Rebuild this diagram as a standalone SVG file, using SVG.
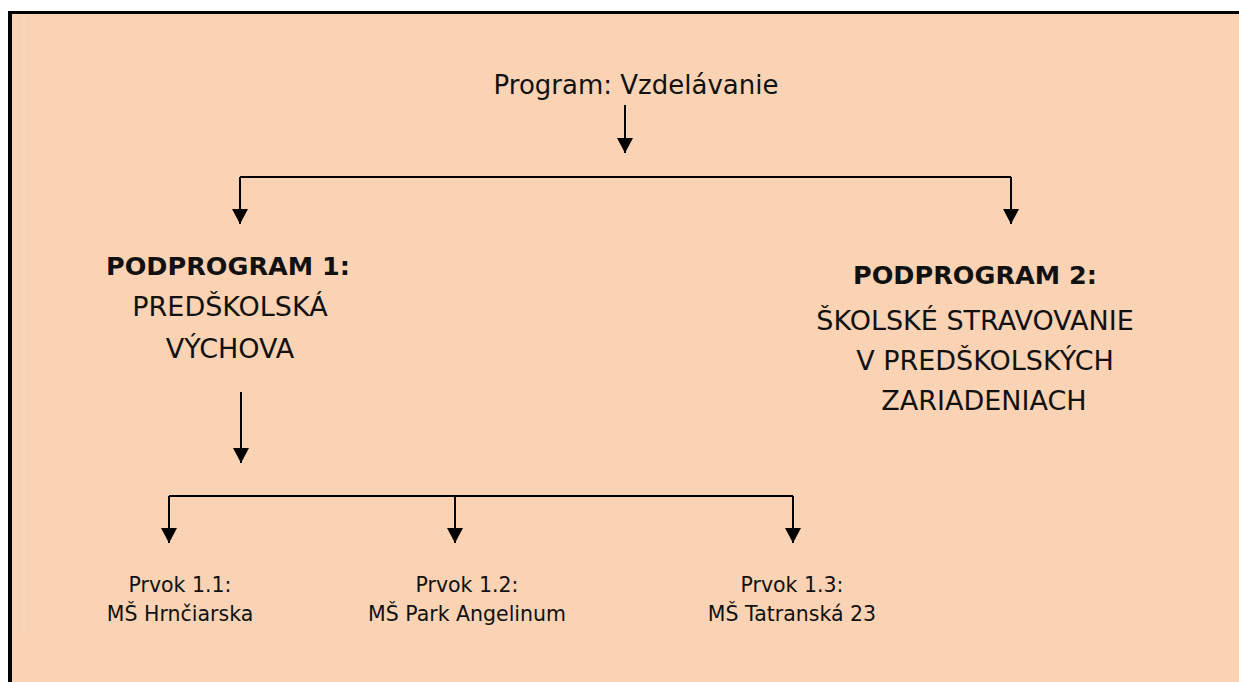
<svg xmlns="http://www.w3.org/2000/svg" width="1239" height="682" viewBox="0 0 1239 682">
  <defs>
    <!-- filled triangular arrowhead, drawn along +x so orient="auto" follows the line -->
    <marker id="arrow" markerWidth="16" markerHeight="16" refX="15" refY="8" orient="auto" markerUnits="userSpaceOnUse" viewBox="0 0 16 16">
      <path d="M0,0 L15,8 L0,16 Z" fill="#000"/>
    </marker>
    <style>
      .conn { fill: none; stroke: #000; stroke-width: 2; }
      .arr { marker-end: url(#arrow); }
      .gothic { font-family: "DejaVu Sans", "Liberation Sans", sans-serif; fill: #111; text-anchor: middle; }
      .title { font-size: 26px; }
      .head { font-size: 25.5px; font-weight: bold; }
      .sub { font-size: 27px; }
      .item { font-family: "DejaVu Sans", "Liberation Sans", sans-serif; font-size: 20.5px; fill: #111; text-anchor: middle; }
    </style>
  </defs>

  <!-- page background and frame -->
  <rect x="0" y="0" width="1239" height="682" fill="#ffffff"/>
  <rect x="10" y="12" width="1229" height="670" fill="#FAD3B4"/>
  <line x1="24" y1="14" x2="24" y2="636" stroke="#FBDDC4" stroke-width="1"/>
  <line x1="8" y1="12.5" x2="1239" y2="12.5" stroke="#000" stroke-width="3"/>
  <line x1="10" y1="11" x2="10" y2="682" stroke="#000" stroke-width="4"/>

  <!-- connectors -->
  <g id="connectors">
    <path class="conn arr" d="M625,105 V153"/>
    <path class="conn" d="M240,177 H1011"/>
    <path class="conn arr" d="M240,177 V224"/>
    <path class="conn arr" d="M1011,177 V224"/>
    <path class="conn arr" d="M241,392 V463"/>
    <path class="conn" d="M169,496 H793"/>
    <path class="conn arr" d="M169,496 V543"/>
    <path class="conn arr" d="M455,496 V543"/>
    <path class="conn arr" d="M793,496 V543"/>
  </g>

  <g id="program">
    <text class="gothic title" x="636" y="94">Program: Vzdelávanie</text>
  </g>

  <g id="podprogram1">
    <text class="gothic head" x="228" y="275">PODPROGRAM 1:</text>
    <text class="gothic sub" x="230" y="316">PREDŠKOLSKÁ</text>
    <text class="gothic sub" x="230" y="358">VÝCHOVA</text>
  </g>

  <g id="podprogram2">
    <text class="gothic head" x="975" y="284">PODPROGRAM 2:</text>
    <text class="gothic sub" x="975" y="330">ŠKOLSKÉ STRAVOVANIE</text>
    <text class="gothic sub" x="985" y="370">V PREDŠKOLSKÝCH</text>
    <text class="gothic sub" x="984" y="410">ZARIADENIACH</text>
  </g>

  <g id="prvok11">
    <text class="item" x="180" y="592">Prvok 1.1:</text>
    <text class="item" x="180" y="621">MŠ Hrnčiarska</text>
  </g>

  <g id="prvok12">
    <text class="item" x="467" y="592">Prvok 1.2:</text>
    <text class="item" x="467" y="621">MŠ Park Angelinum</text>
  </g>

  <g id="prvok13">
    <text class="item" x="792" y="592">Prvok 1.3:</text>
    <text class="item" x="792" y="621">MŠ Tatranská 23</text>
  </g>
</svg>
